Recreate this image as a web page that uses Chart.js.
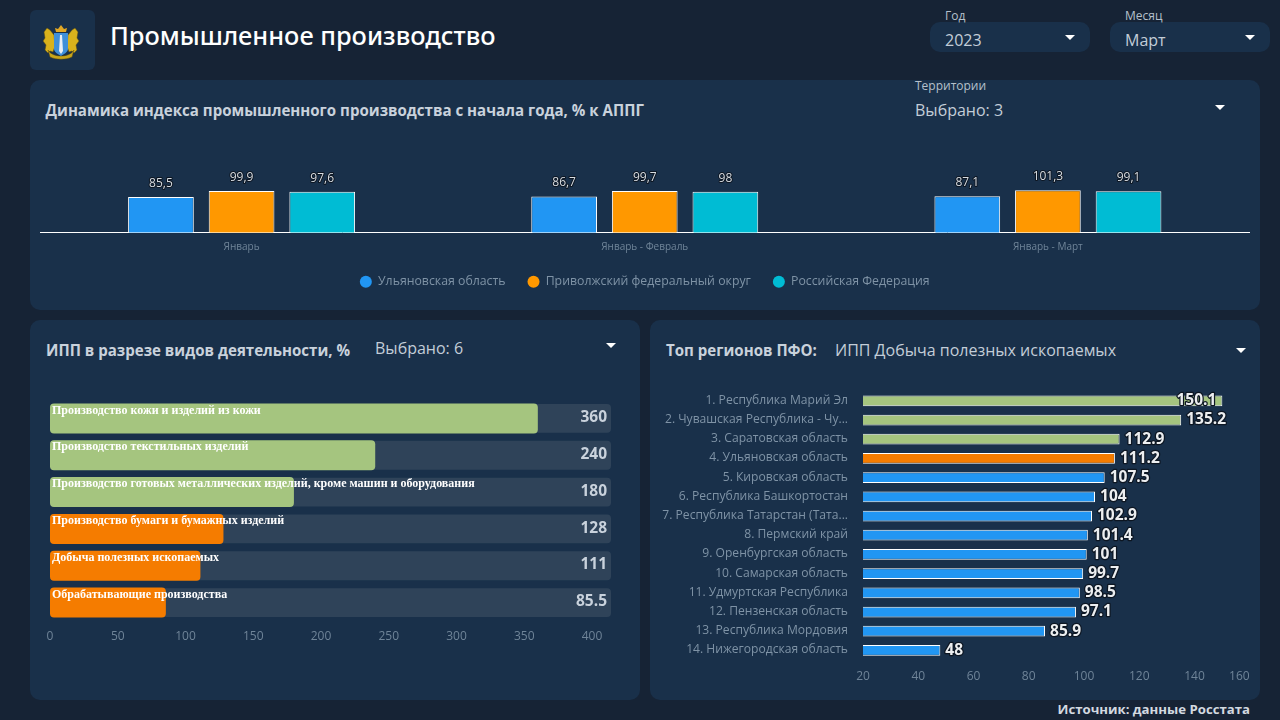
<!DOCTYPE html>
<html lang="ru"><head><meta charset="utf-8">
<script src="https://cdn.jsdelivr.net/npm/chart.js@4"></script>
<style>
html,body{margin:0;padding:0;width:1280px;height:720px;overflow:hidden;background:#162335;font-family:"Open Sans",sans-serif;color:#fff}
.a{position:absolute;white-space:nowrap}
.card{position:absolute;background:#19304a;border-radius:10px}
canvas{position:absolute;display:block}
.tri{position:absolute;width:0;height:0;border-left:5px solid transparent;border-right:5px solid transparent;border-top:5px solid #fff}
.ttl{font-weight:700;font-size:15.08px;color:#c9d2dc;line-height:20px}
.sel{font-size:16px;color:#c3cdd8;line-height:22px}
.lab{font-size:12px;color:#b5c0cc;line-height:14px}
</style></head><body>
<div class="card" style="left:30px;top:10px;width:65px;height:60px;border-radius:6px"></div>
<svg class="a" style="left:42px;top:24px" width="38" height="36" viewBox="0 0 38 36">
<path d="M2 8l3-4 3 2 4 5 1 11-2 6-3-1-2 2-3-3 1-5-3-4 2-3z" fill="#d9b21c" stroke="#5a4a10" stroke-width=".5"/>
<path d="M36 8l-3-4-3 2-4 5-1 11 2 6 3-1 2 2 3-3-1-5 3-4-2-3z" fill="#d9b21c" stroke="#5a4a10" stroke-width=".5"/>
<path d="M6 26c4 8 22 8 26 0l-2 7c-6 3-16 3-22 0z" fill="#c9a51a" stroke="#5a4a10" stroke-width=".5"/>
<path d="M12 9h14v16c0 3-4 5-7 7-3-2-7-4-7-7z" fill="#3f8fd8"/><path d="M18 11h2l1 16-2 3-2-3z" fill="#e8eef5"/>
<path d="M14 8l-1-4 3 1 3-4 3 4 3-1-1 4z" fill="#e3a824"/></svg>
<div class="a" style="left:110px;top:17px;font-family:'Noto Sans',sans-serif;font-size:25.4px;font-weight:500;line-height:36px;color:#fff">Промышленное производство</div>

<div class="card" style="left:930px;top:22px;width:160px;height:30px"></div>
<div class="a lab" style="left:945px;top:9px">Год</div>
<div class="a sel" style="left:945px;top:29px">2023</div>
<div class="tri" style="left:1065px;top:35px"></div>
<div class="card" style="left:1110px;top:22px;width:160px;height:30px"></div>
<div class="a lab" style="left:1125px;top:9px">Месяц</div>
<div class="a sel" style="left:1125px;top:29px">Март</div>
<div class="tri" style="left:1245px;top:35px"></div>

<div class="card" style="left:30px;top:80px;width:1230px;height:230px"></div>
<div class="a ttl" style="left:45.5px;top:100px">Динамика индекса промышленного производства с начала года, % к АППГ</div>
<div class="a lab" style="left:915px;top:79px">Территории</div>
<div class="a sel" style="left:915px;top:99px">Выбрано: 3</div>
<div class="tri" style="left:1215px;top:105px"></div>

<div class="card" style="left:30px;top:320px;width:610px;height:380px"></div>
<div class="a ttl" style="left:46px;top:340px">ИПП в разрезе видов деятельности, %</div>
<div class="a sel" style="left:375px;top:337px">Выбрано: 6</div>
<div class="tri" style="left:606px;top:343px"></div>

<div class="card" style="left:650px;top:320px;width:610px;height:380px"></div>
<div class="a ttl" style="left:666px;top:340px">Топ регионов ПФО:</div>
<div class="a sel" style="left:835px;top:339px">ИПП Добыча полезных ископаемых</div>
<div class="tri" style="left:1236px;top:348px"></div>

<div class="a" style="right:30px;top:700px;font-size:13.2px;font-weight:700;color:#d3d9e0;line-height:18px">Источник: данные Росстата</div>

<canvas id="c1" width="1230" height="176" style="left:30px;top:130px"></canvas>
<canvas id="c2" width="576" height="260" style="left:35px;top:390px"></canvas>
<canvas id="c3" width="619" height="323" style="left:650px;top:369px"></canvas>

<script>
const periods = ["Январь", "Январь - Февраль", "Январь - Март"];
const ulyanovsk = [85.5, 86.7, 87.1];
const pfo = [99.9, 99.7, 101.3];
const russia = [97.6, 98, 99.1];

const activities = ["Производство кожи и изделий из кожи","Производство текстильных изделий","Производство готовых металлических изделий, кроме машин и оборудования","Производство бумаги и бумажных изделий","Добыча полезных ископаемых","Обрабатывающие производства"];
const activityValues = [360, 240, 180, 128, 111, 85.5];
const activityTrack = [414, 414, 414, 414, 414, 414];

const regions = ["1. Республика Марий Эл","2. Чувашская Республика - Чу...","3. Саратовская область","4. Ульяновская область","5. Кировская область","6. Республика Башкортостан","7. Республика Татарстан (Тата...","8. Пермский край","9. Оренбургская область","10. Самарская область","11. Удмуртская Республика","12. Пензенская область","13. Республика Мордовия","14. Нижегородская область"];
const regionValues = [150.1, 135.2, 112.9, 111.2, 107.5, 104, 102.9, 101.4, 101, 99.7, 98.5, 97.1, 85.9, 48];

const BLUE="#2196f3", ORANGE="#ff9800", CYAN="#00bcd4", GREEN="#a5c57f", DEEP="#f57c00";
const FF='"Open Sans",sans-serif', TICK="#6f8498";
const actColor=v=>v>=150?GREEN:DEEP;
const regColor=(v,i)=>regions[i].includes("Ульяновская")?DEEP:(v>=112?GREEN:BLUE);

function outlined(ctx,t,x,y,font,fill,lw,align){
  ctx.save();ctx.font=font;ctx.textAlign=align||"center";ctx.textBaseline="middle";
  ctx.lineJoin="round";ctx.lineWidth=lw;ctx.strokeStyle="#0d1622";ctx.strokeText(t,x,y);
  ctx.fillStyle=fill;ctx.fillText(t,x,y);ctx.restore();
}

new Chart(document.getElementById("c1"),{
  type:"bar",
  data:{labels:periods,datasets:[
    {label:"Ульяновская область",data:ulyanovsk,backgroundColor:BLUE},
    {label:"Приволжский федеральный округ",data:pfo,backgroundColor:ORANGE},
    {label:"Российская Федерация",data:russia,backgroundColor:CYAN}
  ].map(d=>Object.assign(d,{borderColor:"#fff",borderWidth:1,categoryPercentage:0.6,barPercentage:0.815}))},
  options:{responsive:false,animation:false,
    layout:{padding:{left:10,right:10.5,top:19,bottom:8}},
    plugins:{tooltip:{enabled:false},
      legend:{position:"bottom",labels:{usePointStyle:true,pointStyle:"circle",boxWidth:12,boxHeight:8.5,padding:22,color:"#7f93a6",font:{family:FF,size:12.3},
        generateLabels(c){return Chart.defaults.plugins.legend.labels.generateLabels(c).map(l=>Object.assign(l,{lineWidth:0,strokeStyle:"rgba(0,0,0,0)"}));}}}},
    scales:{
      x:{grid:{display:false,drawTicks:false},border:{color:"#fff",width:1},afterFit(s){s.height=21;},ticks:{color:TICK,font:{family:FF,size:10},padding:8,maxRotation:0}},
      y:{display:false,min:0,max:200}
    }},
  plugins:[{id:"v1",afterDatasetsDraw(c){c.data.datasets.forEach((d,i)=>c.getDatasetMeta(i).data.forEach((e,j)=>{
    outlined(c.ctx,String(d.data[j]).replace(".",","),e.x,e.y-13.5,"12px "+FF,"#d8dde3",2);}));}}]
});

new Chart(document.getElementById("c2"),{
  type:"bar",
  data:{labels:activities,datasets:[
    {label:"ИПП",data:activityValues,backgroundColor:activityValues.map(actColor),borderRadius:4,borderSkipped:false,categoryPercentage:1,barPercentage:0.815,order:1},
    {label:"track",data:activityTrack,backgroundColor:"#2f4359",borderRadius:4,borderSkipped:false,categoryPercentage:1,barPercentage:0.785,order:2}
  ]},
  options:{indexAxis:"y",responsive:false,animation:false,
    layout:{padding:{left:15,right:0,top:10,bottom:0}},
    plugins:{legend:{display:false},tooltip:{enabled:false}},
    datasets:{bar:{grouped:false}},
    scales:{
      x:{min:0,max:414,grid:{display:false,drawTicks:false},border:{display:false},afterFit(s){s.height=29;},
        ticks:{stepSize:50,color:TICK,font:{family:FF,size:12},padding:8,maxRotation:0,includeBounds:false}},
      y:{display:false}
    }},
  plugins:[{id:"v2",afterDatasetsDraw(c){const ctx=c.ctx,m=c.getDatasetMeta(0),a=c.chartArea;
    m.data.forEach((e,i)=>{
      const top=e.y-14.7;
      ctx.save();ctx.font='bold 12px "Liberation Serif",serif';ctx.fillStyle="#fff";ctx.textBaseline="middle";ctx.textAlign="left";
      ctx.fillText(activities[i],a.left+2,top+6.8);ctx.restore();
      ctx.save();ctx.font="bold 15.5px "+FF;ctx.fillStyle="#c9d2dc";ctx.textBaseline="middle";ctx.textAlign="right";
      ctx.fillText(String(activityValues[i]),a.right-4,e.y-0.7);ctx.restore();
    });}}]
});

new Chart(document.getElementById("c3"),{
  type:"bar",
  data:{labels:regions,datasets:[{label:"ИПП Добыча полезных ископаемых",data:regionValues,backgroundColor:regionValues.map(regColor),borderColor:"#fff",borderWidth:1,borderSkipped:false,categoryPercentage:1,barPercentage:0.56}]},
  options:{indexAxis:"y",responsive:false,animation:false,
    layout:{padding:{left:0,right:0,top:1,bottom:0}},
    plugins:{legend:{display:false},tooltip:{enabled:false}},
    scales:{
      x:{min:20,max:160,grid:{display:false,drawTicks:false},border:{display:false},afterFit(s){s.height=32;},
        ticks:{stepSize:20,font:{family:FF,size:12},padding:9,maxRotation:0,color:t=>t.tick&&t.tick.value===160?"rgba(0,0,0,0)":TICK}},
      y:{grid:{display:false,drawTicks:false},border:{display:false},afterFit(s){s.width=213;},
        ticks:{color:"#7f93a6",font:{family:FF,size:12.1},padding:15,autoSkip:false,labelOffset:-0.5}}
    }},
  plugins:[{id:"v3",afterDatasetsDraw(c){const ctx=c.ctx,a=c.chartArea,font="bold 15.5px "+FF;
    c.getDatasetMeta(0).data.forEach((e,i)=>{
      const t=String(regionValues[i]);ctx.save();ctx.font=font;const w=ctx.measureText(t).width;ctx.restore();
      if(e.x+5+w>a.right) outlined(ctx,t,e.x-6,e.y,font,"#eceef0",2.5,"right");
      else outlined(ctx,t,e.x+5,e.y,font,"#eceef0",2.5,"left");
    });
    const s=c.scales.x;ctx.save();ctx.font="12px "+FF;ctx.fillStyle=TICK;ctx.textAlign="right";ctx.textBaseline="middle";
    ctx.fillText("160",s.getPixelForValue(160),a.bottom+16.5);ctx.restore();
  }}]
});
</script></body></html>
